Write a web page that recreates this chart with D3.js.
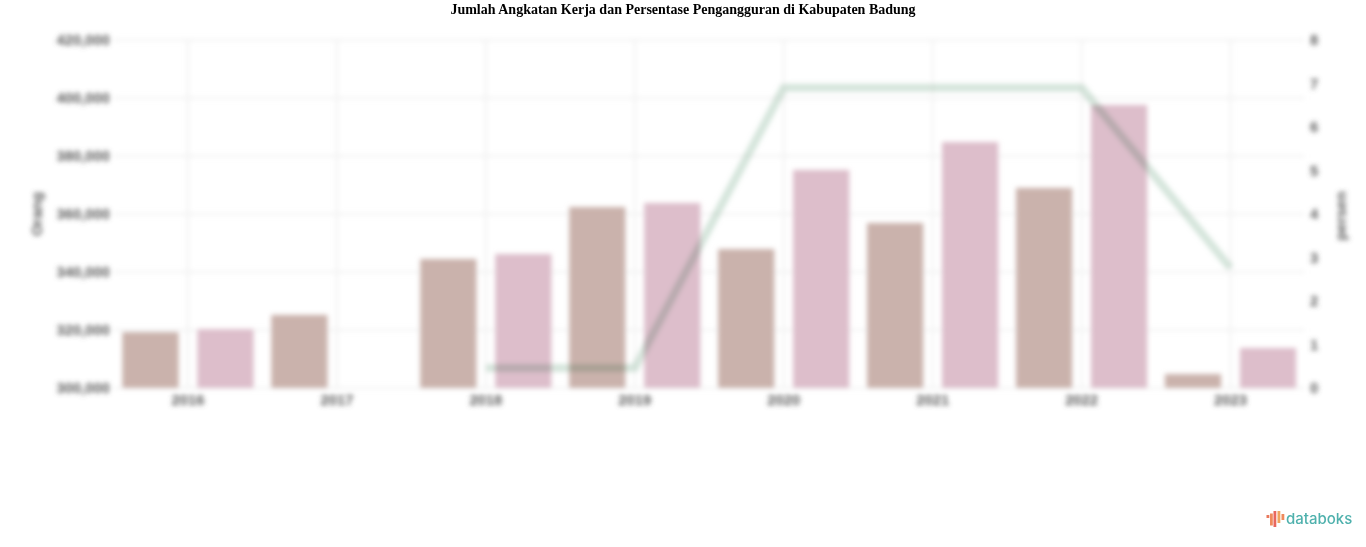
<!DOCTYPE html>
<html lang="en">
<head>
  <meta charset="UTF-8">
  <title>Jumlah Angkatan Kerja</title>
  <style>
    html, body { margin: 0; padding: 0; background: #fff; }
    svg { display: block; }
    .title { font-family: 'Liberation Serif', serif; font-weight: bold; font-size: 14px; fill: #000; }
    .tick-label { font-family: 'Liberation Sans', sans-serif; font-size: 14.8px; font-weight: bold; fill: #5c5c5c; }
    .axis-title { font-family: 'Liberation Sans', sans-serif; font-size: 15px; font-weight: bold; fill: #5c5c5c; }
  </style>
</head>
<body>
  <svg id="svg" width="1366" height="547"></svg>
  <script src="https://d3js.org/d3.v7.min.js"></script>
  <script>
    const years = ['2016', '2017', '2018', '2019', '2020', '2021', '2022', '2023']
    // values, axis labels are a best guess
    const bekerja = [319300, 325200, 344500, 362400, 347900, 356900, 369000, 304800]
    const angkatanKerja = [320300, null, 346200, 363800, 375200, 384800, 397600, 313800]
    const pengangguran = [null, null, 0.46, 0.46, 6.9, 6.9, 6.9, 2.76]
    const leftTicks = [300000, 320000, 340000, 360000, 380000, 400000, 420000]
    const rightTicks = [0, 1, 2, 3, 4, 5, 6, 7, 8]

    const svg = d3.select('#svg')

    const defs = svg.append('defs')
    defs.append('filter')
      .attr('id', 'blur')
      .attr('filterUnits', 'userSpaceOnUse')
      .attr('x', 0).attr('y', 0).attr('width', 1366).attr('height', 547)
      .append('feGaussianBlur')
      .attr('stdDeviation', 2.8)

    const x = d3.scaleBand().domain(years).range([113.5, 1305])
    const sub = d3.scaleBand().domain(['a', 'b']).range([0, x.bandwidth()])
      .paddingInner(0.25).paddingOuter(0.118)
    const yLeft = d3.scaleLinear().domain([300000, 420000]).range([388, 40])
    const yRight = d3.scaleLinear().domain([0, 8]).range([388, 40])

    const chart = svg.append('g').attr('filter', 'url(#blur)')

    // grid
    chart.append('g').selectAll('line').data(leftTicks).join('line')
      .attr('x1', 113.5).attr('x2', 1305)
      .attr('y1', d => yLeft(d)).attr('y2', d => yLeft(d))
      .attr('stroke', '#ececec').attr('stroke-width', 1.5)
    chart.append('g').selectAll('line').data(years).join('line')
      .attr('x1', d => x(d) + x.bandwidth() / 2).attr('x2', d => x(d) + x.bandwidth() / 2)
      .attr('y1', 40).attr('y2', 388)
      .attr('stroke', '#ececec').attr('stroke-width', 1.5)

    // bars
    chart.append('g').selectAll('rect').data(years).join('rect')
      .attr('x', d => x(d) + sub('a'))
      .attr('width', sub.bandwidth())
      .attr('y', (d, i) => yLeft(bekerja[i]))
      .attr('height', (d, i) => 388 - yLeft(bekerja[i]))
      .attr('fill', '#cab2ac')
    chart.append('g').selectAll('rect')
      .data(years.filter((d, i) => angkatanKerja[i] != null)).join('rect')
      .attr('x', d => x(d) + sub('b'))
      .attr('width', sub.bandwidth())
      .attr('y', d => yLeft(angkatanKerja[years.indexOf(d)]))
      .attr('height', d => 388 - yLeft(angkatanKerja[years.indexOf(d)]))
      .attr('fill', '#ddbecb')

    // line
    const line = d3.line()
      .defined(d => d.v != null)
      .x(d => x(d.year) + x.bandwidth() / 2)
      .y(d => yRight(d.v))
    chart.append('path')
      .datum(years.map((year, i) => ({ year, v: pengangguran[i] })))
      .attr('d', line)
      .attr('fill', 'none')
      .attr('stroke', '#9cc0a9')
      .attr('stroke-opacity', 0.42)
      .attr('stroke-width', 8)
      .style('mix-blend-mode', 'multiply')

    // axes text
    chart.append('g').selectAll('text').data(leftTicks).join('text')
      .attr('class', 'tick-label')
      .attr('x', 110).attr('y', d => yLeft(d) + 5)
      .attr('text-anchor', 'end')
      .text(d3.format(','))
    chart.append('g').selectAll('text').data(rightTicks).join('text')
      .attr('class', 'tick-label')
      .attr('x', 1310).attr('y', d => yRight(d) + 5)
      .text(d => d)
    chart.append('g').selectAll('text').data(years).join('text')
      .attr('class', 'tick-label')
      .attr('x', d => x(d) + x.bandwidth() / 2).attr('y', 405)
      .attr('text-anchor', 'middle')
      .text(d => d)
    chart.append('text').attr('class', 'axis-title')
      .attr('transform', 'translate(42,214) rotate(-90)')
      .attr('text-anchor', 'middle').text('Orang')
    chart.append('text').attr('class', 'axis-title')
      .attr('transform', 'translate(1346,216) rotate(-90)')
      .attr('text-anchor', 'middle').text('persen')

    // title
    svg.append('text').attr('class', 'title')
      .attr('x', 683).attr('y', 14).attr('text-anchor', 'middle')
      .text('Jumlah Angkatan Kerja dan Persentase Pengangguran di Kabupaten Badung')

    // logo
    const logo = svg.append('g')
    const logoBars = [[1266.5, 515, 3, '#e9795d'], [1270, 513.5, 12, '#ef8a5c'], [1273.5, 511, 16, '#e9675d'], [1277.5, 511, 12, '#f0a45e'], [1281.5, 514, 6, '#ef8a5c']]
    logo.selectAll('rect').data(logoBars).join('rect')
      .attr('x', d => d[0]).attr('y', d => d[1])
      .attr('width', 2.8).attr('height', d => d[2])
      .attr('fill', d => d[3])
    logo.append('text')
      .attr('x', 1286).attr('y', 524)
      .attr('font-family', 'Inter, sans-serif').attr('font-size', 15).attr('font-weight', 500)
      .attr('fill', '#4fb1ad')
      .text('databoks')
  </script>
</body>
</html>
